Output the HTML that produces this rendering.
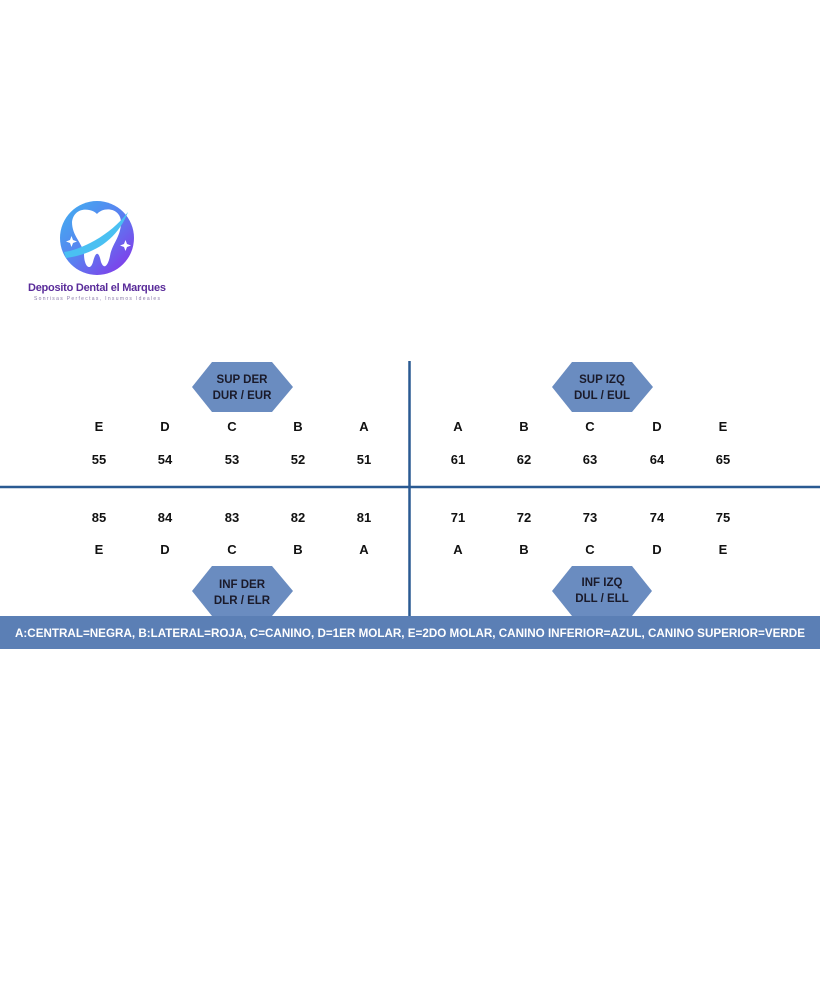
<!DOCTYPE html>
<html><head><meta charset="utf-8"><style>
html,body{margin:0;padding:0;background:#fff;width:820px;height:1000px;overflow:hidden}
svg{display:block}
.t{font-family:"Liberation Sans",sans-serif;font-weight:bold;font-size:13px;fill:#111;text-anchor:middle}
.h{font-family:"Liberation Sans",sans-serif;font-weight:bold;font-size:11.5px;fill:#1a1a2a;text-anchor:middle}
</style></head><body>
<svg width="820" height="1000" viewBox="0 0 820 1000" xmlns="http://www.w3.org/2000/svg">
<defs>
<linearGradient id="lg" x1="0" y1="0" x2="1" y2="1">
<stop offset="0" stop-color="#3fb3f0"/><stop offset="0.5" stop-color="#5a7ff0"/><stop offset="1" stop-color="#8a2be8"/>
</linearGradient>
</defs>
<circle cx="97" cy="238" r="37" fill="url(#lg)"/>
<path d="M72 222 C74 206 92 208 97 214 C104 206 122 208 121 224 C120 238 112 244 110 256 C108 266 104 270 101 262 C99 252 96 250 93 262 C90 272 84 266 84 254 C82 242 72 236 72 222 Z" fill="#fff"/>
<path d="M64 252 C80 250 110 236 128 212 C118 238 96 254 66 258 Z" fill="#4ac0f2"/>
<path d="M70 240 l1.5 -4 l1.5 4 l4 1.5 l-4 1.5 l-1.5 4 l-1.5 -4 l-4 -1.5 z" fill="#fff"/>
<path d="M124 244 l1.5 -4 l1.5 4 l4 1.5 l-4 1.5 l-1.5 4 l-1.5 -4 l-4 -1.5 z" fill="#fff"/>
<text x="97" y="291" textLength="138" style="font-family:'Liberation Sans',sans-serif;font-size:11px;font-weight:600;fill:#5a2c9a;text-anchor:middle">Deposito Dental el Marques</text>
<text x="97" y="300" textLength="126" style="font-family:'Liberation Sans',sans-serif;font-size:5px;fill:#8a7aa8;text-anchor:middle">Sonrisas Perfectas, Insumos Ideales</text>

<line x1="409.5" y1="361" x2="409.5" y2="617" stroke="#2a5a92" stroke-width="2.5"/>
<line x1="0" y1="487" x2="820" y2="487" stroke="#2a5a92" stroke-width="2.5"/>

<polygon points="192,387 212,362 272,362 293,387 272,412 212,412" fill="#6a8cc0"/>
<text class="h" x="242" y="383">SUP DER</text><text class="h" x="242" y="399">DUR / EUR</text>
<polygon points="552,387 572,362 632,362 653,387 632,412 572,412" fill="#6a8cc0"/>
<text class="h" x="602" y="383">SUP IZQ</text><text class="h" x="602" y="399">DUL / EUL</text>
<polygon points="192,591 212,566 272,566 293,591 272,616 212,616" fill="#6a8cc0"/>
<text class="h" x="242" y="588">INF DER</text><text class="h" x="242" y="604">DLR / ELR</text>
<polygon points="552,591 572,566 632,566 652,591 632,616 572,616" fill="#6a8cc0"/>
<text class="h" x="602" y="586">INF IZQ</text><text class="h" x="602" y="602">DLL / ELL</text>

<text class="t" x="99" y="431">E</text><text class="t" x="165" y="431">D</text><text class="t" x="232" y="431">C</text><text class="t" x="298" y="431">B</text><text class="t" x="364" y="431">A</text>
<text class="t" x="458" y="431">A</text><text class="t" x="524" y="431">B</text><text class="t" x="590" y="431">C</text><text class="t" x="657" y="431">D</text><text class="t" x="723" y="431">E</text>
<text class="t" x="99" y="464">55</text><text class="t" x="165" y="464">54</text><text class="t" x="232" y="464">53</text><text class="t" x="298" y="464">52</text><text class="t" x="364" y="464">51</text>
<text class="t" x="458" y="464">61</text><text class="t" x="524" y="464">62</text><text class="t" x="590" y="464">63</text><text class="t" x="657" y="464">64</text><text class="t" x="723" y="464">65</text>
<text class="t" x="99" y="522">85</text><text class="t" x="165" y="522">84</text><text class="t" x="232" y="522">83</text><text class="t" x="298" y="522">82</text><text class="t" x="364" y="522">81</text>
<text class="t" x="458" y="522">71</text><text class="t" x="524" y="522">72</text><text class="t" x="590" y="522">73</text><text class="t" x="657" y="522">74</text><text class="t" x="723" y="522">75</text>
<text class="t" x="99" y="554">E</text><text class="t" x="165" y="554">D</text><text class="t" x="232" y="554">C</text><text class="t" x="298" y="554">B</text><text class="t" x="364" y="554">A</text>
<text class="t" x="458" y="554">A</text><text class="t" x="524" y="554">B</text><text class="t" x="590" y="554">C</text><text class="t" x="657" y="554">D</text><text class="t" x="723" y="554">E</text>

<rect x="0" y="616" width="820" height="33" fill="#5b7fb5"/>
<text x="410" y="637" textLength="790" lengthAdjust="spacingAndGlyphs" style="font-family:'Liberation Sans',sans-serif;font-weight:bold;font-size:11.8px;fill:#fff;text-anchor:middle">A:CENTRAL=NEGRA, B:LATERAL=ROJA, C=CANINO, D=1ER MOLAR, E=2DO MOLAR, CANINO INFERIOR=AZUL, CANINO SUPERIOR=VERDE</text>
</svg>
</body></html>
